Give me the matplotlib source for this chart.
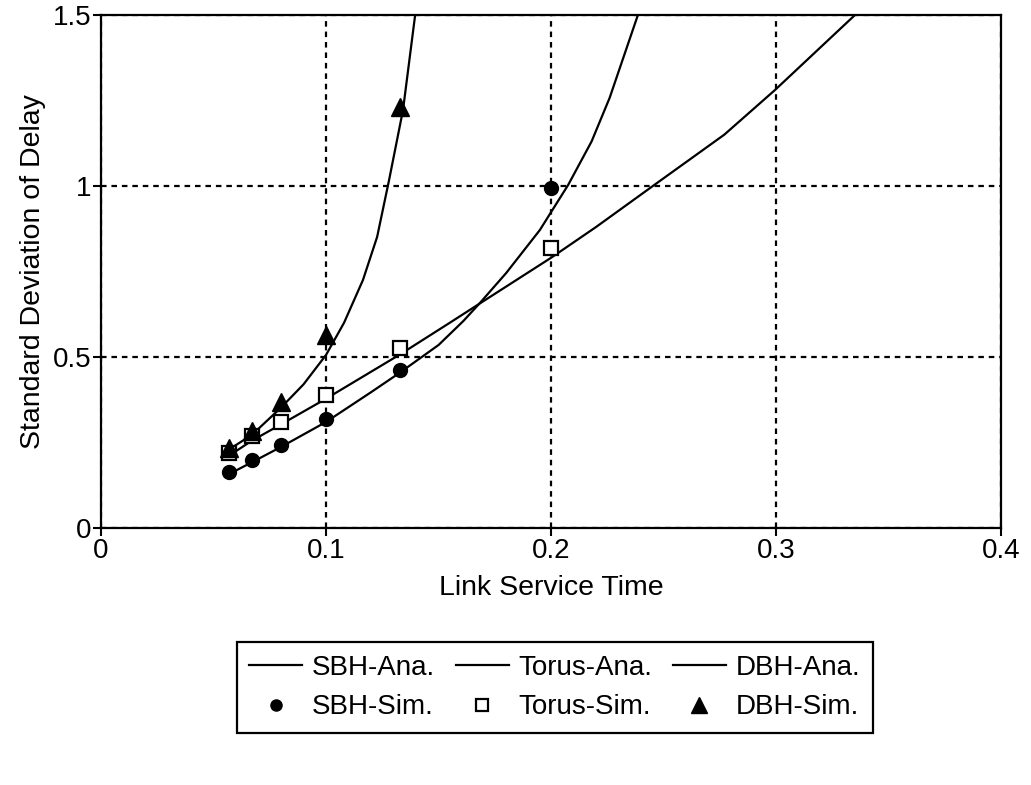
import matplotlib.pyplot as plt
from matplotlib.lines import Line2D

plt.rcParams['font.family'] = ['Liberation Sans', 'DejaVu Sans']

# simulation points
sim_x = [0.057, 0.067, 0.08, 0.1, 0.133, 0.2]
sbh_sim = [0.164, 0.199, 0.243, 0.319, 0.462, 0.994]
torus_sim = [0.219, 0.268, 0.31, 0.389, 0.525, 0.819]
dbh_sim_x = [0.057, 0.067, 0.08, 0.1, 0.133]
dbh_sim = [0.235, 0.285, 0.368, 0.564, 1.23]

# analytical curves
sbh_ana_x = [0.057, 0.067, 0.08, 0.1, 0.12, 0.133, 0.15, 0.161, 0.168, 0.18, 0.195, 0.2076, 0.218, 0.226, 0.2386]
sbh_ana = [0.158, 0.192, 0.237, 0.31, 0.397, 0.455, 0.535, 0.605, 0.655, 0.745, 0.871, 1.003, 1.13, 1.257, 1.5]
torus_ana_x = [0.057, 0.067, 0.08, 0.1, 0.133, 0.155, 0.168, 0.2, 0.22, 0.2459, 0.277, 0.2996, 0.3351]
torus_ana = [0.212, 0.255, 0.303, 0.378, 0.508, 0.6, 0.655, 0.79, 0.88, 1.003, 1.15, 1.281, 1.5]
dbh_ana_x = [0.056, 0.067, 0.08, 0.09, 0.1, 0.108, 0.1164, 0.1227, 0.128, 0.1342, 0.1396]
dbh_ana = [0.226, 0.272, 0.352, 0.42, 0.506, 0.6, 0.725, 0.851, 1.017, 1.222, 1.5]

fig = plt.figure(figsize=(10.31, 7.85), dpi=100)
ax = fig.add_axes([0.098, 0.3274, 0.873, 0.6536])

lw = 1.6
ax.plot(sbh_ana_x, sbh_ana, color='black', lw=lw, zorder=3)
ax.plot(torus_ana_x, torus_ana, color='black', lw=lw, zorder=3)
ax.plot(dbh_ana_x, dbh_ana, color='black', lw=lw, zorder=3)
ax.plot(sim_x, sbh_sim, ls='none', marker='o', ms=10, color='black', zorder=4)
ax.plot(sim_x, torus_sim, ls='none', marker='s', ms=10.5, mfc='white', mec='black', mew=1.6, zorder=4)
ax.plot(dbh_sim_x, dbh_sim, ls='none', marker='^', ms=13, color='black', zorder=4)

ax.set_xlim(0, 0.4)
ax.set_ylim(0, 1.5)
ax.set_xticks([0, 0.1, 0.2, 0.3, 0.4])
ax.set_xticklabels(['0', '0.1', '0.2', '0.3', '0.4'])
ax.set_yticks([0, 0.5, 1, 1.5])
ax.set_yticklabels(['0', '0.5', '1', '1.5'])
ax.tick_params(direction='out', length=6, width=1.5, labelsize=20, pad=1, colors='black')
ax.grid(True, color='black', linestyle=(0, (2.5, 2.2)), linewidth=1.6)
for s in ax.spines.values():
    s.set_linewidth(1.6)
ax.set_xlabel('Link Service Time', fontsize=20.5, labelpad=8)
ax.set_ylabel('Standard Deviation of Delay', fontsize=20.5, labelpad=5)

handles = [
    Line2D([], [], color='black', lw=lw),
    Line2D([], [], ls='none', marker='o', ms=8, color='black'),
    Line2D([], [], color='black', lw=lw),
    Line2D([], [], ls='none', marker='s', ms=8, mfc='white', mec='black', mew=1.6),
    Line2D([], [], color='black', lw=lw),
    Line2D([], [], ls='none', marker='^', ms=11, color='black'),
]
labels = ['SBH-Ana.', 'SBH-Sim.', 'Torus-Ana.', 'Torus-Sim.', 'DBH-Ana.', 'DBH-Sim.']
leg = fig.legend(handles, labels, ncol=3, loc='center', bbox_to_anchor=(0.538, 0.1242),
                 fontsize=20, frameon=True, fancybox=False, edgecolor='black', framealpha=1,
                 handlelength=1.9, columnspacing=0.75, handletextpad=0.35, labelspacing=0.5,
                 borderpad=0.45, borderaxespad=0)
leg.get_frame().set_linewidth(1.6)

fig.savefig('out.png', dpi=100)
